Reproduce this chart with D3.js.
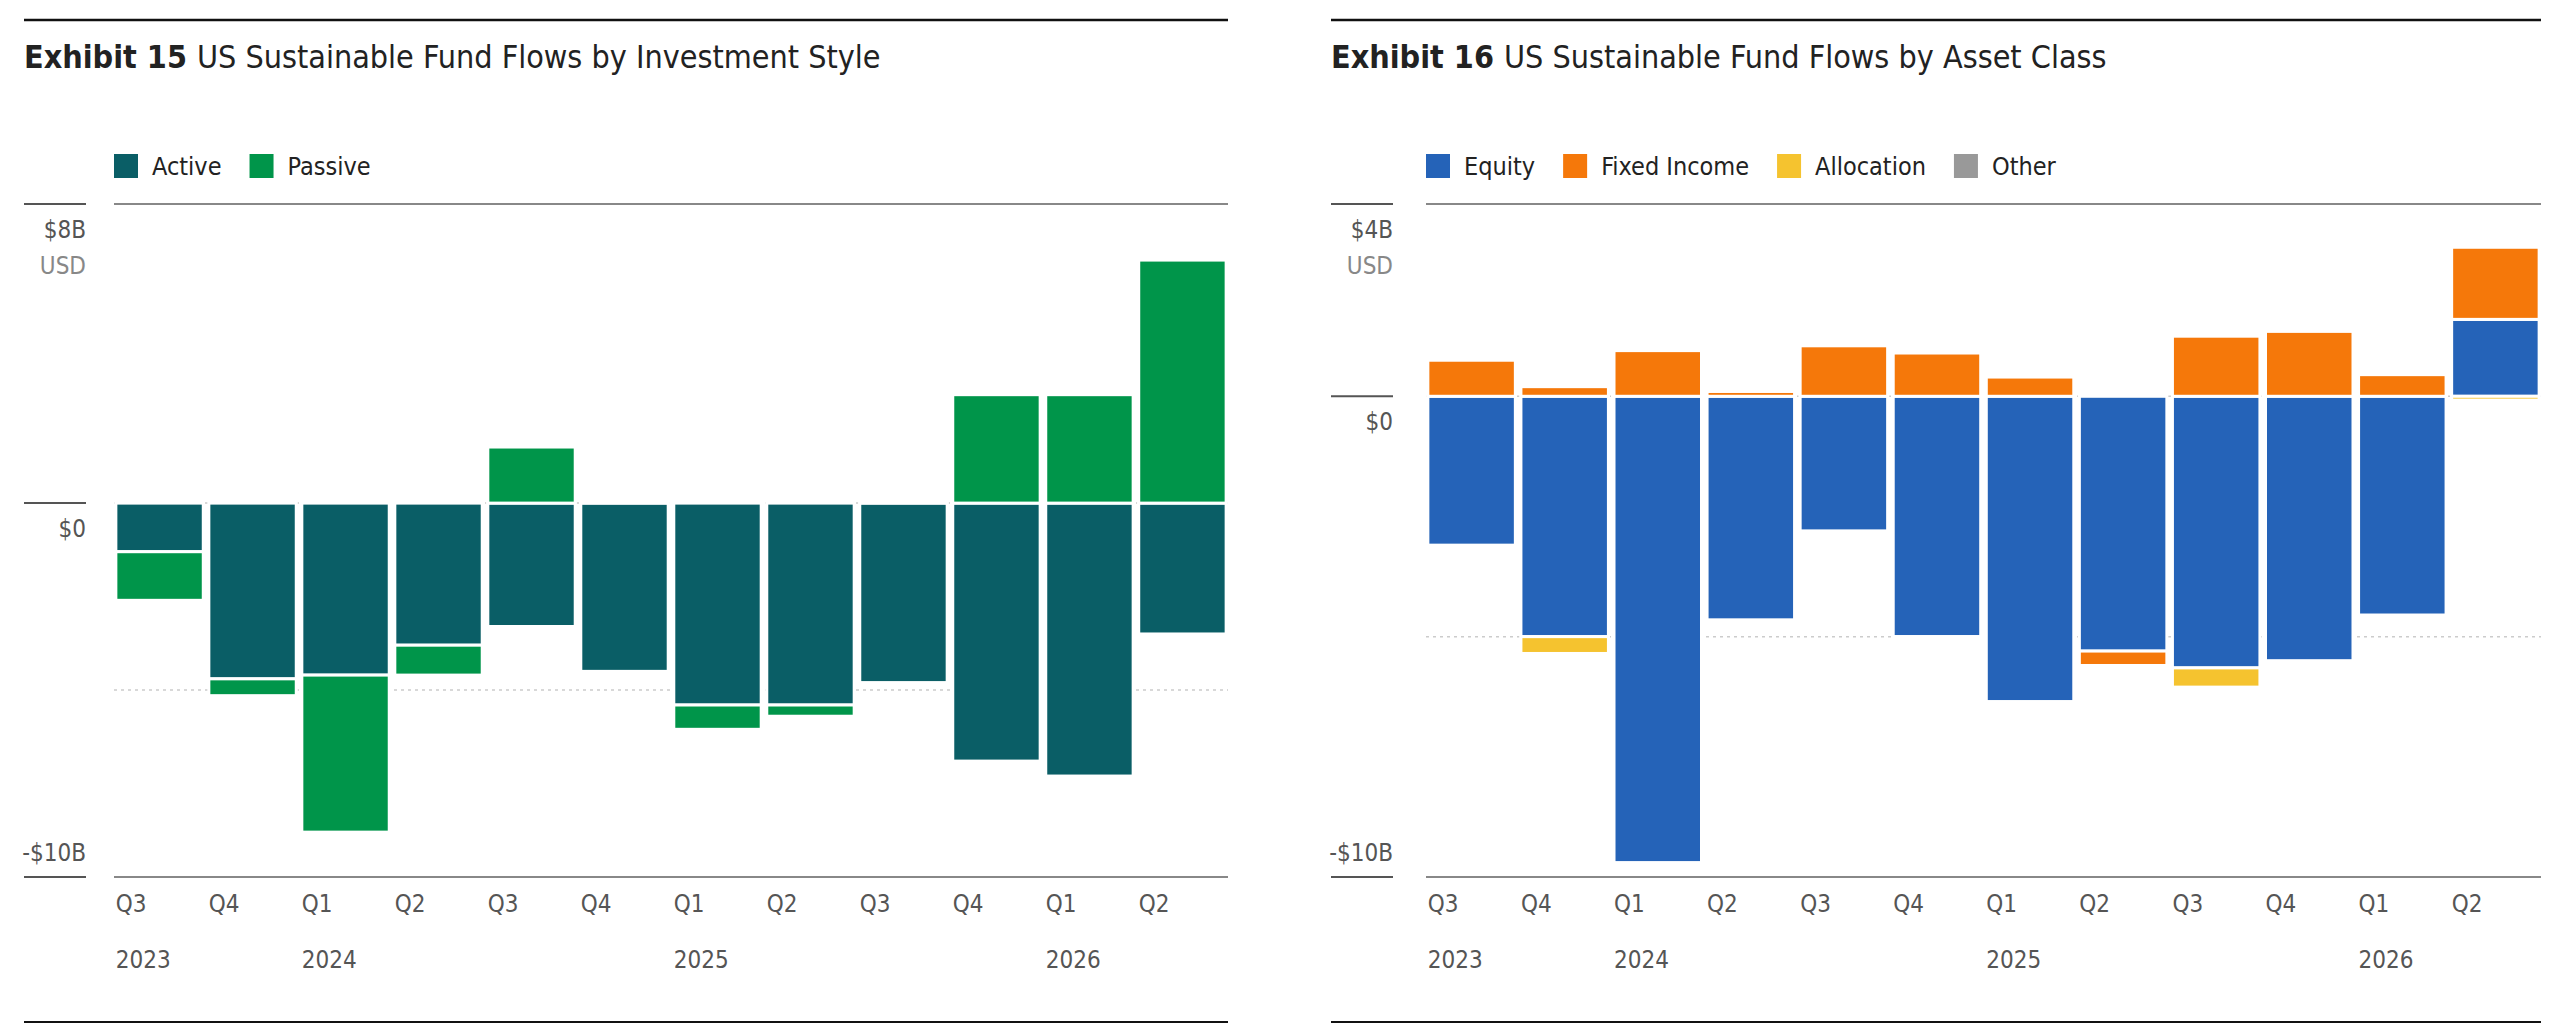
<!DOCTYPE html>
<html lang="en">
<head>
<meta charset="utf-8">
<style>
  body { margin: 0; background: #fff; }
  svg text { font-family: "Liberation Sans Narrow", "DejaVu Sans Condensed", "Roboto", sans-serif; fill: #222; }
  .tick { fill: #555; font-size: 24px; }
</style>
<script src="https://d3js.org/d3.v7.min.js"></script>
</head>
<body>
<svg id="chart" width="2560" height="1032"></svg>
<script>
var quarters = ["Q3", "Q4", "Q1", "Q2", "Q3", "Q4", "Q1", "Q2", "Q3", "Q4", "Q1", "Q2"];
var years = ["2023", "", "2024", "", "", "", "2025", "", "", "", "2026", ""];

// Exhibit 15 ($B)
var active  = [-1.3, -4.7, -4.6, -3.8, -3.3, -4.5, -5.4, -5.4, -4.8, -6.9, -7.3, -3.5];
var passive = [-1.3, -0.45, -4.2, -0.8, 1.5, 0.08, -0.65, -0.3, 0.08, 2.9, 2.9, 6.5];

// Exhibit 16 ($B)
var equity      = [-3.1, -5.0, -9.7, -4.65, -2.8, -5.0, -6.35, -5.3, -5.65, -5.5, -4.55, 1.6];
var fixedIncome = [0.75, 0.2, 0.95, 0.1, 1.05, 0.9, 0.4, -0.3, 1.25, 1.35, 0.45, 1.5];
var allocation  = [-0.05, -0.35, 0, 0, 0, -0.05, 0, 0, -0.4, 0, 0, -0.08];
var other       = [-0.05, 0, 0, 0, 0, -0.05, 0, 0, 0, 0, 0, 0];

var svg = d3.select("#chart");

function drawPanel(o) {
    var g = svg.append("g");
    var x = d3.scaleBand().domain(d3.range(12)).range([o.x0, o.x1]).paddingInner(0.06).paddingOuter(0.02);
    var y = d3.scaleLinear().domain([o.min, o.max]).range([877, 204]);

    g.append("line").attr("x1", o.left).attr("x2", o.x1).attr("y1", 20).attr("y2", 20)
        .attr("stroke", "#111").attr("stroke-width", 2.5);
    var t = g.append("text").attr("x", o.left).attr("y", 68).style("font-size", "32px");
    t.append("tspan").style("font-weight", "bold").text(o.exhibit + "  ");
    t.append("tspan").text(o.title);

    // legend
    var lx = o.x0;
    o.keys.forEach(function(k, i) {
        g.append("rect").attr("x", lx).attr("y", 154).attr("width", 24).attr("height", 24).attr("fill", o.colors[i]);
        var tx = g.append("text").attr("x", lx + 38).attr("y", 175).style("font-size", "25px").text(o.labels[i]);
        lx += 38 + tx.node().getComputedTextLength() + 28;
    });

    // frame lines
    g.append("line").attr("x1", o.x0).attr("x2", o.x1).attr("y1", 204).attr("y2", 204).attr("stroke", "#888").attr("stroke-width", 2);
    g.append("line").attr("x1", o.x0).attr("x2", o.x1).attr("y1", 877).attr("y2", 877).attr("stroke", "#888").attr("stroke-width", 2);
    [o.max, 0, o.min].forEach(function(v) {
        g.append("line").attr("x1", o.left).attr("x2", o.left + 62).attr("y1", y(v)).attr("y2", y(v)).attr("stroke", "#555").attr("stroke-width", 2);
    });
    [0, -5].forEach(function(v) {
        g.append("line").attr("x1", o.x0).attr("x2", o.x1).attr("y1", y(v)).attr("y2", y(v))
            .attr("stroke", "#ccc").attr("stroke-dasharray", "3,4").attr("stroke-width", 1.5);
    });
    var ax = o.left + 62;
    g.append("text").attr("class", "tick").attr("x", ax).attr("y", y(o.max) + 34).attr("text-anchor", "end").text(o.maxLabel);
    g.append("text").attr("class", "tick").attr("x", ax).attr("y", y(o.max) + 70).attr("text-anchor", "end").style("fill", "#888").text("USD");
    g.append("text").attr("class", "tick").attr("x", ax).attr("y", y(0) + 34).attr("text-anchor", "end").text("$0");
    g.append("text").attr("class", "tick").attr("x", ax).attr("y", y(o.min) - 16).attr("text-anchor", "end").text("-$10B");

    // bars
    var rows = d3.range(12).map(function(i) {
        var r = { i: i };
        o.keys.forEach(function(k, j) { r[k] = o.series[j][i]; });
        return r;
    });
    var stack = d3.stack().keys(o.keys).offset(d3.stackOffsetDiverging)(rows);
    g.selectAll(".layer").data(stack).enter().append("g").attr("fill", function(d, i) { return o.colors[i]; })
        .selectAll("rect").data(function(d) { return d; }).enter().append("rect")
        .attr("x", function(d) { return x(d.data.i); })
        .attr("width", x.bandwidth())
        .attr("y", function(d) { return y(Math.max(d[0], d[1])); })
        .attr("height", function(d) { return Math.abs(y(d[0]) - y(d[1])); })
        .attr("stroke", "#fff").attr("stroke-width", 3);

    // x labels
    g.selectAll(".q").data(quarters).enter().append("text").attr("class", "tick")
        .attr("x", function(d, i) { return x(i); }).attr("y", 912).text(function(d) { return d; });
    g.selectAll(".yr").data(years).enter().append("text").attr("class", "tick")
        .attr("x", function(d, i) { return x(i); }).attr("y", 968).text(function(d) { return d; });

    g.append("line").attr("x1", o.left).attr("x2", o.x1).attr("y1", 1022).attr("y2", 1022)
        .attr("stroke", "#111").attr("stroke-width", 2);
}

drawPanel({
    left: 24, x0: 114, x1: 1228, min: -10, max: 8, maxLabel: "$8B",
    exhibit: "Exhibit 15", title: "US Sustainable Fund Flows by Investment Style",
    keys: ["active", "passive"], labels: ["Active", "Passive"],
    colors: ["#0a5e66", "#00954a"], series: [active, passive]
});
drawPanel({
    left: 1331, x0: 1426, x1: 2541, min: -10, max: 4, maxLabel: "$4B",
    exhibit: "Exhibit 16", title: "US Sustainable Fund Flows by Asset Class",
    keys: ["equity", "fixed", "alloc", "other"], labels: ["Equity", "Fixed Income", "Allocation", "Other"],
    colors: ["#2563b8", "#f5780a", "#f5c32f", "#999999"], series: [equity, fixedIncome, allocation, other]
});
</script>
</body>
</html>
